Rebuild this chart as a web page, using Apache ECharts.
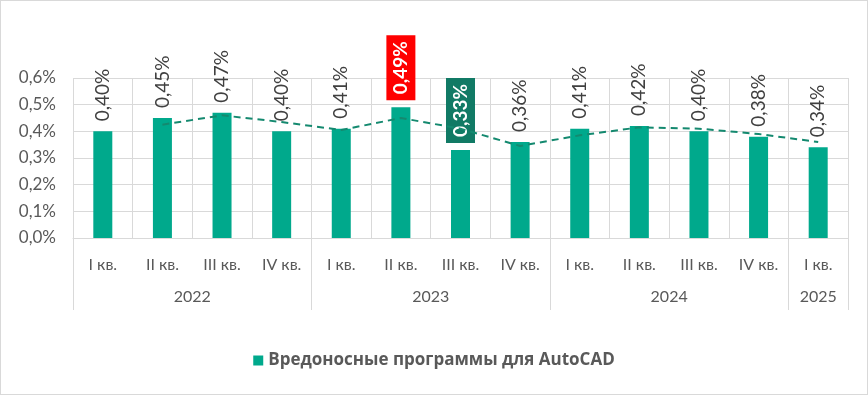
<!DOCTYPE html>
<html><head><meta charset="utf-8">
<script src="https://cdn.jsdelivr.net/npm/echarts@6/dist/echarts.min.js"></script>
<style>html,body{margin:0;padding:0;background:#fff}#c{width:866px;height:393px;border:1px solid #d9d9d9}</style>
</head><body><div id="c"></div>
<script>
const quarters = ['I кв.','II кв.','III кв.','IV кв.','I кв.','II кв.','III кв.','IV кв.','I кв.','II кв.','III кв.','IV кв.','I кв.'];
const years = ['2022','2023','2024','2025'];
const yearSpans = [4,4,4,1];
const values = [0.40,0.45,0.47,0.40,0.41,0.49,0.33,0.36,0.41,0.42,0.40,0.38,0.34];
const trend = [null,0.425,0.46,0.435,0.405,0.45,0.41,0.345,0.385,0.415,0.41,0.39,0.36];
const seriesName = 'Вредоносные программы для AutoCAD';
const highlightMax = 5, highlightMin = 6;

const FONT = 'Lato, "Open Sans", sans-serif';
const fmtPct = v => v.toFixed(2).replace('.', ',') + '%';

const yearBounds = [0]; const yearCenters = [];
yearSpans.forEach((s,i)=>{ yearCenters.push(yearBounds[i] + s/2); yearBounds.push(yearBounds[i]+s); });

const barData = values.map((v,i)=>{
  const item = {value:v};
  if (i===highlightMax || i===highlightMin) {
    item.label = {
      color:'#fff', fontWeight:'bold',
      backgroundColor: i===highlightMax ? '#ff0000' : '#117a65',
      padding:[6,6,4,6], distance:7
    };
  }
  return item;
});

const chart = echarts.init(document.getElementById('c'));
chart.setOption({
  animation:false,
  grid:{left:72, right:19, top:77, bottom:156},
  legend:{
    data:[seriesName], bottom:20, left:'center',
    itemWidth:10, itemHeight:10, icon:'rect', itemGap:6,
    textStyle:{fontFamily:'"Open Sans", sans-serif', fontWeight:'bold', fontSize:17, color:'#595959'}
  },
  xAxis:[{
    type:'category', data:quarters, boundaryGap:true,
    axisLine:{show:true, lineStyle:{color:'#d9d9d9'}},
    axisTick:{show:false},
    splitLine:{show:true, interval:0, lineStyle:{color:'#d9d9d9'}},
    axisLabel:{interval:0, margin:19, fontFamily:FONT, fontSize:16, color:'#595959'}
  },{
    type:'value', min:0, max:quarters.length, position:'bottom',
    axisLine:{show:false}, splitLine:{show:false},
    axisTick:{show:true, customValues:yearBounds, length:72, lineStyle:{color:'#d9d9d9'}},
    axisLabel:{customValues:yearCenters, margin:51, fontFamily:FONT, fontSize:16, color:'#595959',
      formatter:(v)=>{ const k = yearCenters.indexOf(v); return k>=0 ? years[k] : ''; }}
  }],
  yAxis:{
    type:'value', min:0, max:0.6, interval:0.1,
    axisLine:{show:false}, axisTick:{show:false},
    splitLine:{lineStyle:{color:'#d9d9d9'}},
    axisLabel:{margin:17, fontFamily:FONT, fontSize:17, color:'#595959',
      formatter:v=>v.toFixed(1).replace('.', ',') + '%'}
  },
  series:[{
    name:seriesName, type:'bar', data:barData, barWidth:19,
    itemStyle:{color:'#00a98c'},
    label:{show:true, position:'top', rotate:90, align:'left', verticalAlign:'middle', distance:10,
      fontFamily:FONT, fontSize:19, color:'#404040', formatter:p=>fmtPct(p.value)}
  },{
    name:'trend', type:'line', data:trend, symbol:'none', silent:true,
    lineStyle:{color:'#14896f', width:2, type:[7,5]}, z:3
  }]
});
</script></body></html>
